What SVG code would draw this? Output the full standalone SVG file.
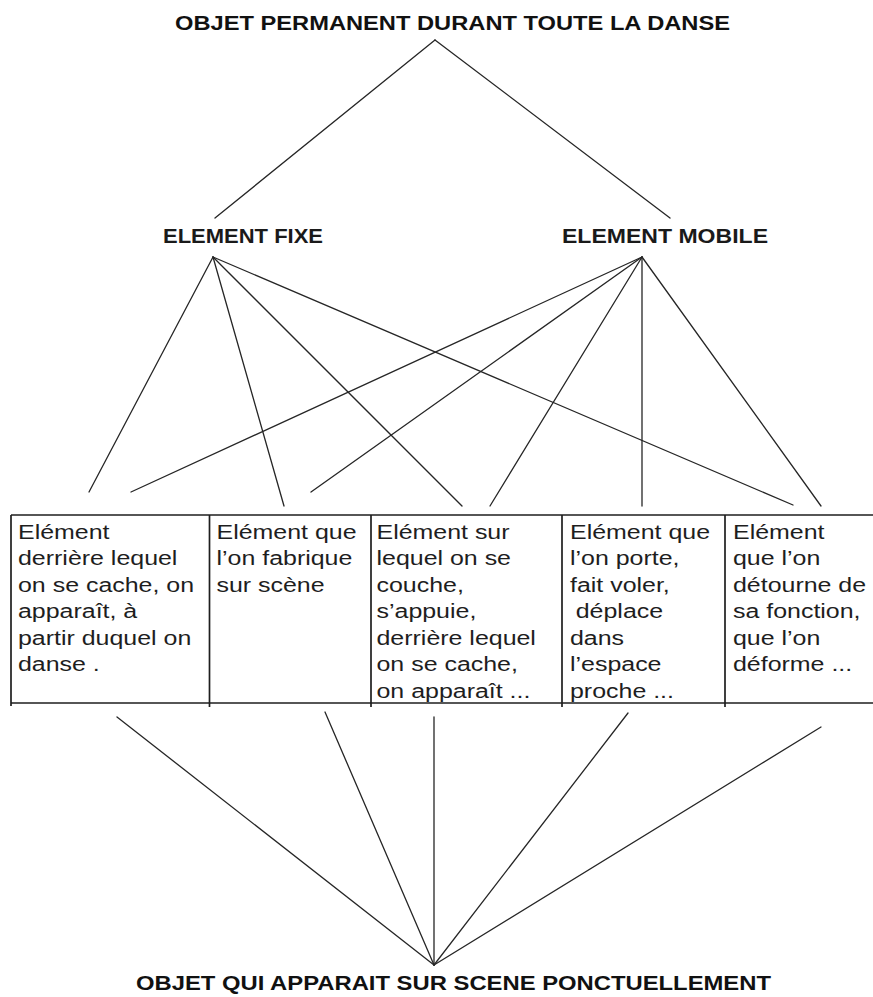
<svg xmlns="http://www.w3.org/2000/svg" width="873" height="997" viewBox="0 0 873 997">
<style>
.title{font-family:"Liberation Sans",Arial,sans-serif;font-weight:bold;font-size:20px;fill:#111}
.head{font-family:"Liberation Sans",Arial,sans-serif;font-weight:bold;font-size:21px;fill:#1a1a1a}
.cell{font-family:"Liberation Sans",Arial,sans-serif;font-size:19.5px;fill:#1e1e1e}
.con{stroke:#262626;stroke-width:1.3;fill:none;stroke-linecap:round}
.tb{stroke:#1e1e1e;stroke-width:1.7;fill:none}
</style>
<rect width="873" height="997" fill="#fff"/>
<g id="connectors">
<line class="con" x1="435" y1="40" x2="215" y2="218"/>
<line class="con" x1="435" y1="40" x2="670" y2="218"/>
<line class="con" x1="213" y1="257" x2="89" y2="492"/>
<line class="con" x1="213" y1="257" x2="284" y2="506"/>
<line class="con" x1="213" y1="257" x2="462" y2="506"/>
<line class="con" x1="213" y1="257" x2="793" y2="505"/>
<line class="con" x1="642" y1="257" x2="131" y2="492"/>
<line class="con" x1="642" y1="257" x2="311" y2="492"/>
<line class="con" x1="642" y1="257" x2="490" y2="506"/>
<line class="con" x1="642" y1="257" x2="642" y2="506"/>
<line class="con" x1="642" y1="257" x2="821" y2="506"/>
<line class="con" x1="117" y1="717" x2="434" y2="965"/>
<line class="con" x1="325" y1="712" x2="434" y2="965"/>
<line class="con" x1="434" y1="717" x2="434" y2="965"/>
<line class="con" x1="628" y1="713" x2="434" y2="965"/>
<line class="con" x1="821" y1="727" x2="434" y2="965"/>
</g>
<g id="title-top">
<text class="title" x="175" y="29.5" textLength="555" lengthAdjust="spacingAndGlyphs">OBJET PERMANENT DURANT TOUTE LA DANSE</text>
</g>
<g id="node-fixe">
<text class="head" x="163" y="243" textLength="160" lengthAdjust="spacingAndGlyphs">ELEMENT FIXE</text>
</g>
<g id="node-mobile">
<text class="head" x="562" y="243" textLength="206" lengthAdjust="spacingAndGlyphs">ELEMENT MOBILE</text>
</g>
<g id="table">
<line class="tb" x1="11" y1="515" x2="873" y2="515"/>
<line class="tb" x1="11" y1="703" x2="873" y2="703" stroke-width="2.2"/>
<line class="tb" x1="11" y1="515" x2="11" y2="706"/>
<line class="tb" x1="209.5" y1="515" x2="209.5" y2="707"/>
<line class="tb" x1="371" y1="515" x2="371" y2="707"/>
<line class="tb" x1="562" y1="515" x2="562" y2="707"/>
<line class="tb" x1="725" y1="515" x2="725" y2="707"/>
</g>
<g id="cell-1" transform="translate(18,0) scale(1.28,1)">
<text class="cell" x="0" y="539">Elément</text>
<text class="cell" x="0" y="565.5">derrière lequel</text>
<text class="cell" x="0" y="592">on se cache, on</text>
<text class="cell" x="0" y="618.5">apparaît, à</text>
<text class="cell" x="0" y="645">partir duquel on</text>
<text class="cell" x="0" y="671.5">danse .</text>
</g>
<g id="cell-2" transform="translate(216.5,0) scale(1.28,1)">
<text class="cell" x="0" y="539">Elément que</text>
<text class="cell" x="0" y="565.5">l’on fabrique</text>
<text class="cell" x="0" y="592">sur scène</text>
</g>
<g id="cell-3" transform="translate(376.5,0) scale(1.28,1)">
<text class="cell" x="0" y="539">Elément sur</text>
<text class="cell" x="0" y="565.5">lequel on se</text>
<text class="cell" x="0" y="592">couche,</text>
<text class="cell" x="0" y="618.5">s’appuie,</text>
<text class="cell" x="0" y="645">derrière lequel</text>
<text class="cell" x="0" y="671.5">on se cache,</text>
<text class="cell" x="0" y="698">on apparaît ...</text>
</g>
<g id="cell-4" transform="translate(570,0) scale(1.28,1)">
<text class="cell" x="0" y="539">Elément que</text>
<text class="cell" x="0" y="565.5">l’on porte,</text>
<text class="cell" x="0" y="592">fait voler,</text>
<text class="cell" x="4.5" y="618.5">déplace</text>
<text class="cell" x="0" y="645">dans</text>
<text class="cell" x="0" y="671.5">l’espace</text>
<text class="cell" x="0" y="698">proche ...</text>
</g>
<g id="cell-5" transform="translate(733,0) scale(1.28,1)">
<text class="cell" x="0" y="539">Elément</text>
<text class="cell" x="0" y="565.5">que l’on</text>
<text class="cell" x="0" y="592">détourne de</text>
<text class="cell" x="0" y="618.5">sa fonction,</text>
<text class="cell" x="0" y="645">que l’on</text>
<text class="cell" x="0" y="671.5">déforme ...</text>
</g>
<g id="title-bottom">
<text class="title" x="136" y="990" textLength="635" lengthAdjust="spacingAndGlyphs" style="font-size:21px">OBJET QUI APPARAIT SUR SCENE PONCTUELLEMENT</text>
</g>
</svg>
